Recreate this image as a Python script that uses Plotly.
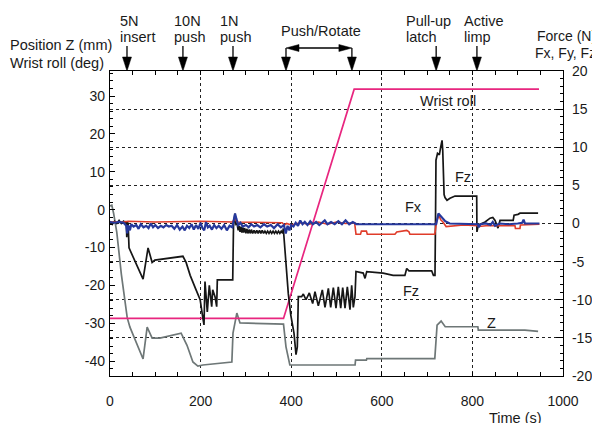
import plotly.graph_objects as go

# ---------------- data ----------------
# Wrist roll (deg) - left axis
wrist_t = [0, 383, 539, 947]
wrist_deg = [-28.7, -28.7, 31.8, 31.8]

# Position Z (mm) - left axis
z_t = [0, 4, 8, 15, 25, 33, 38, 44, 73, 82,
       93, 110, 148, 157, 170, 183, 194, 205, 269, 271.5,
       280, 287, 383, 388.5, 397, 541, 542, 566, 567, 717,
       722, 731, 740, 812, 813, 916, 945]
z_mm = [1.0, 1.2, -1.0, -6.0, -17.0, -24.0, -28.5, -31.0, -39.4, -31.0,
        -33.9, -33.9, -32.8, -32.6, -35.8, -40.2, -41.3, -41.0, -40.2, -32.6,
        -27.3, -29.9, -30.2, -36.2, -41.0, -41.0, -39.7, -39.7, -39.3, -39.3,
        -30.5, -29.4, -30.9, -30.9, -31.8, -31.8, -32.1]

# Fz (N) - right axis
fz_t = [0, 5, 10, 15, 20, 25, 30, 34, 36, 37, 38, 40, 42,
        73, 84, 93, 99, 132, 161, 168, 177, 190, 199, 205, 207.5,
        209.7, 214.8, 219.2, 224.5, 226.7, 231.8, 235.5, 236.9, 270.9,
        272.6, 275.9, 278, 280.4,
        283, 285, 287, 289, 291, 293, 295, 297,
        300, 302, 305, 307, 310, 312, 315, 318,
        321, 324, 327, 330, 333, 336, 339, 342,
        345, 348, 351, 354, 357, 360, 363, 366,
        369, 372, 375, 378, 381,
        382.6, 386.3, 393.6, 399, 406.2, 410.6, 413.5, 415.7,
        423, 426.8, 432.7, 440, 447.4, 452.5, 459.9, 468.7, 474.6, 482, 487.2,
        493, 498.9, 504, 509.3, 513.7, 518.8, 523.9, 529.8, 533.5, 537.1, 540.8,
        543, 559, 563, 566.7, 603, 625, 651, 655, 660, 677, 710, 714, 717.4,
        718.5, 719.6, 723, 727, 730, 733, 734.5, 736, 737.5, 739.5, 744, 750.5, 761.6, 809.5,
        810, 813, 828, 839, 845, 850, 856.5, 861, 890, 892, 900.7, 905, 945]
fz_n = [0.3, -0.1, 0.3, 0.0, 0.4, 0.0, 0.3, 0.1, 0.3, -1.8, 0.2, 0.0, -3.2,
        -7.3, -3.2, -5.1, -4.8, -4.5, -4.3, -5.1, -6.8, -8.7, -10.0, -12.4, -13.3,
        -7.6, -11.6, -8.1, -10.9, -8.7, -9.6, -10.9, -7.4, -7.4,
        -0.4, 1.3, -0.1, 0.0,
        -0.9, -0.3, -1.1, -0.4, -1.2, -0.5, -1.2, -0.6,
        -1.3, -0.7, -1.3, -0.8, -1.3, -0.8, -1.3, -0.9,
        -1.3, -0.9, -1.3, -0.9, -1.3, -0.9, -1.3, -1.0,
        -1.3, -1.0, -1.3, -1.0, -1.3, -1.0, -1.3, -1.0,
        -1.3, -1.0, -1.3, -1.0, -1.3,
        -0.65, -3.5, -9.2, -12.0, -14.4, -17.2, -16.2, -9.6,
        -9.6, -9.25, -10.0, -9.1, -10.5, -8.95, -10.8, -8.7, -11.0, -8.5, -11.0,
        -8.4, -11.1, -8.3, -11.1, -8.4, -11.1, -8.3, -11.3, -8.1, -11.0, -9.6,
        -6.3, -6.5, -7.2, -6.3, -6.5, -6.8, -6.8, -5.9, -6.2, -6.2, -6.2, -6.8, -6.8,
        0.0, 8.3, 9.2, 9.0, 10.0, 10.9, 9.6, 7.5, 3.8, 3.4, 3.05, 3.3, 3.6, 3.6,
        -1.1, -0.2, 0.2, 0.7, 0.8, 0.4, -0.6, 0.4, 0.4, 1.1, 1.2, 1.35, 1.35]

# Fx (N) - right axis
fx_t = [0, 10, 20, 30, 36, 38, 40, 44, 47, 52,
        58, 63, 68, 74, 80, 85, 90, 95, 100, 106,
        112, 118, 124, 130, 136, 142, 148, 154, 160, 165,
        170, 175, 180, 185, 190, 195, 200, 204, 208, 212,
        216, 220, 225, 230, 235, 240, 246, 252, 258, 264,
        270, 274, 276, 279, 283, 288, 293, 300, 306, 312,
        318, 325, 332, 340, 347, 355, 362, 370, 377, 384,
        388, 392, 396, 400, 405, 410, 415, 420, 425, 430,
        436, 442, 448, 455, 462, 468, 474, 480, 488, 496,
        504, 512, 520, 528, 536, 544, 560, 720, 725, 733,
        740, 750, 800, 812, 814, 818, 830, 840, 845, 850,
        860, 880, 900, 910, 913, 916, 948]
fx_n = [0.2, 0.1, 0.2, 0.1, -0.3, -1.3, -0.2, -0.9, -0.1, -0.4,
        -0.2, -0.7, -0.1, -0.5, -0.3, -0.6, 0.0, -0.5, -0.2, -0.6,
        -0.3, -0.5, -0.2, -0.4, -0.3, -0.7, -0.2, -0.8, -0.4, -0.9,
        -0.3, -0.6, -0.1, -0.8, -0.2, -0.7, 0.1, -0.6, -0.9, 0.2,
        -0.5, -0.3, -0.8, -0.2, -0.6, -0.3, -0.7, -0.2, -0.9, -0.3,
        -0.5, 0.5, 1.3, 0.6, -0.2, 0.1, -0.4, -0.2, -0.5, -0.1,
        -0.4, -0.2, -0.5, -0.1, -0.4, -0.2, -0.6, -0.1, -0.5, -0.2,
        -1.3, -0.3, -0.9, -0.2, -0.4, 0.1, -0.3, 0.4, -0.1, 0.2,
        -0.2, 0.3, -0.1, 0.2, -0.2, 0.1, 0.4, -0.1, 0.2, -0.1,
        0.3, -0.1, 0.4, -0.1, 0.2, -0.1, -0.1, -0.1, 1.3, 0.8,
        0.3, 0.0, -0.1, -0.1, -0.5, -0.1, 0.0, -0.2, 0.2, -0.3,
        0.0, -0.1, 0.0, 0.1, 0.5, 0.0, 0.0]

# Fy (N) - right axis
fy_t = [0, 30, 40, 100, 200, 270, 276, 280, 380, 385,
        390, 400, 420, 440, 460, 480, 500, 520, 540, 543,
        553, 555, 566, 568, 629, 633, 655, 660, 662, 717,
        721, 726, 730, 735, 742, 760, 780, 812, 815, 830,
        880, 894, 895, 905, 906, 948]
fy_n = [0.2, 0.2, 0.3, 0.2, 0.3, 0.2, 0.6, 0.2, 0.1, -0.2,
        0.0, -0.2, 0.1, -0.1, 0.2, -0.1, 0.2, 0.0, 0.1, -1.4,
        -1.4, -1.0, -1.0, -1.4, -1.4, -1.1, -0.9, -1.1, -1.4, -1.4,
        0.3, 1.1, 0.5, 0.2, -0.4, -0.3, -0.2, -0.3, -0.4, -0.3,
        -0.3, -0.3, -0.65, -0.65, -0.2, -0.1]

# Event markers (time, s)
event_times = [37.5, 161, 271.5, 720, 810]
event_line1 = ["5N", "10N", "1N", "Pull-up", "Active"]
event_line2 = ["insert", "push", "push", "latch", "limp"]
push_rotate_span = [388.5, 534]

# Tick labels
x_ticks = [0, 200, 400, 600, 800, 1000]
left_ticks = [-40, -30, -20, -10, 0, 10, 20, 30]
right_ticks = [-20, -15, -10, -5, 0, 5, 10, 15, 20]

# ---------------- layout geometry ----------------
OFF = 8                      # page body margin of the html page
W, H = 592, 415              # figure size (page is 600x423)
ML, MR, MT, MB = 102, 37, 63, 47
PW, PH = W - ML - MR, H - MT - MB
X0, X1 = 0, 1000


def px_x(px):               # page pixel -> paper x
    return (px - OFF - ML) / PW


def px_y(py):               # page pixel -> paper y
    return (H - MB - (py - OFF)) / PH


DXPX = (X1 - X0) / PW

FONT = "Liberation Sans, Arial, Helvetica, sans-serif"
TXT = "#1a1a1a"

fig = go.Figure()
fig.add_trace(go.Scatter(x=z_t, y=z_mm, mode="lines", yaxis="y",
                         line=dict(color="#6e7777", width=1.7), hoverinfo="skip"))
fig.add_trace(go.Scatter(x=wrist_t, y=wrist_deg, mode="lines", yaxis="y",
                         line=dict(color="#e8267f", width=1.7), hoverinfo="skip"))
fig.add_trace(go.Scatter(x=fz_t, y=fz_n, mode="lines", yaxis="y2",
                         line=dict(color="#161616", width=1.7), hoverinfo="skip"))
fig.add_trace(go.Scatter(x=fy_t, y=fy_n, mode="lines", yaxis="y2",
                         line=dict(color="#e03c2a", width=1.6), hoverinfo="skip"))
fig.add_trace(go.Scatter(x=fx_t, y=fx_n, mode="lines", yaxis="y2",
                         line=dict(color="#26389c", width=2.2), hoverinfo="skip"))

annotations = []
shapes = []


def text(s, px, py, anchor="left", size=14.5):
    annotations.append(dict(text=s, x=px_x(px), y=px_y(py), xref="paper", yref="paper",
                            xanchor=anchor, yanchor="middle", showarrow=False,
                            borderpad=0, font=dict(family=FONT, size=size, color=TXT)))


# axis titles
text("Position Z (mm)", 9, 45)
text("Wrist roll (deg)", 9, 63)
text("Force (N)", 597, 36, "right", 14)
text("Fx, Fy, Fz", 597, 53, "right", 14)
text("Time (s)", 515, 418, "center")

# event texts
event_text_left = [119, 173, 219, 405, 463]
for l1, l2, lx in zip(event_line1, event_line2, event_text_left):
    text(l1, lx, 21)
    text(l2, lx, 37)
text("Push/Rotate", 321, 31, "center")

# curve labels
text("Wrist roll", 448, 101, "center")
text("Fz", 463, 177, "center")
text("Fx", 413, 207, "center")
text("Fz", 411, 291, "center")
text("Z", 491, 323, "center")

# arrows (vertical down arrows)
hw = 4.5 * DXPX
hh = 14 / PH
y_top = px_y(46)


def down_arrow(t, ytop):
    shapes.append(dict(type="line", xref="x", yref="paper", x0=t, x1=t, y0=ytop, y1=1.0 + hh * 0.5,
                       line=dict(color="black", width=1.3)))
    shapes.append(dict(type="path", xref="x", yref="paper",
                       path=f"M {t},{1.0} L {t - hw},{1.0 + hh} L {t + hw},{1.0 + hh} Z",
                       fillcolor="black", line=dict(color="black", width=0.5)))


for t in event_times:
    down_arrow(t, y_top)

yh = px_y(48)
for t in push_rotate_span:
    down_arrow(t, yh)
# horizontal double arrow
a, b = push_rotate_span
hl = 13 * DXPX
hv = 3.5 / PH
shapes.append(dict(type="line", xref="x", yref="paper", x0=a + hl * 0.5, x1=b - hl * 0.5, y0=yh, y1=yh,
                   line=dict(color="black", width=1.3)))
shapes.append(dict(type="path", xref="x", yref="paper",
                   path=f"M {a},{yh} L {a + hl},{yh + hv} L {a + hl},{yh - hv} Z",
                   fillcolor="black", line=dict(color="black", width=0.5)))
shapes.append(dict(type="path", xref="x", yref="paper",
                   path=f"M {b},{yh} L {b - hl},{yh + hv} L {b - hl},{yh - hv} Z",
                   fillcolor="black", line=dict(color="black", width=0.5)))

tickfont = dict(family=FONT, size=14, color=TXT)

fig.update_layout(
    width=W, height=H,
    margin=dict(l=ML, r=MR, t=MT, b=MB, pad=0, autoexpand=False),
    paper_bgcolor="white", plot_bgcolor="white",
    showlegend=False,
    font=dict(family=FONT, size=14, color=TXT),
    annotations=annotations,
    shapes=shapes,
    xaxis=dict(range=[X0, X1], tickvals=x_ticks, ticktext=[str(v) for v in x_ticks],
               ticks="inside", ticklen=4, tickwidth=1, tickcolor="black",
               minor=dict(dtick=50, tick0=0, ticks="inside", ticklen=4, tickwidth=1, tickcolor="black", showgrid=False),
               showline=True, linecolor="black", linewidth=1.3, mirror="allticks",
               showgrid=True, gridcolor="#222", griddash="dot", gridwidth=1,
               zeroline=False, tickfont=tickfont, ticklabelstandoff=12, automargin=False),
    yaxis=dict(range=[-43.9, 36.6], tickvals=left_ticks, ticktext=[str(v) for v in left_ticks],
               ticks="inside", ticklen=5, tickwidth=1, tickcolor="black",
               minor=dict(dtick=2, tick0=0, ticks="inside", ticklen=3, tickwidth=1, tickcolor="black", showgrid=False),
               showline=True, linecolor="black", linewidth=1.3,
               showgrid=False, zeroline=False, tickfont=tickfont, ticklabelstandoff=1, automargin=False),
    yaxis2=dict(range=[-20, 20], tickvals=right_ticks, ticktext=[str(v) for v in right_ticks],
                overlaying="y", side="right",
                ticks="inside", ticklen=7, tickwidth=1, tickcolor="black",
                minor=dict(dtick=1, tick0=0, ticks="inside", ticklen=3, tickwidth=1, tickcolor="black", showgrid=False),
                showline=True, linecolor="black", linewidth=1.3,
                showgrid=True, gridcolor="#222", griddash="dot", gridwidth=1,
                zeroline=False, tickfont=tickfont, ticklabelstandoff=5, automargin=False),
)

fig.write_html("out.html")
